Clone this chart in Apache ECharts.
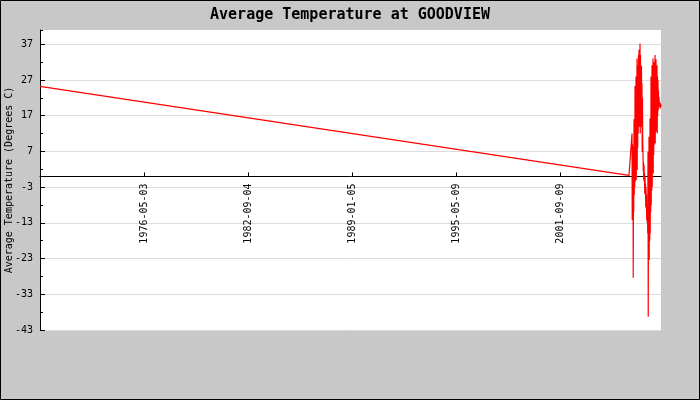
<!DOCTYPE html>
<html>
<head>
<meta charset="utf-8">
<script src="https://cdn.jsdelivr.net/npm/echarts@6/dist/echarts.min.js"></script>
<style>
html,body{margin:0;padding:0;background:#c8c8c8;}
#chart{width:700px;height:400px;}
</style>
</head>
<body>
<div id="chart"></div>
<script>
// Observation dates (YYYY-MM-DD) and average temperatures (°C)
const dates = [
  '1970-01-01', '2005-11-16',
  '2006-01-22', '2006-01-27', '2006-02-02', '2006-02-07',
  '2006-02-13', '2006-02-18', '2006-02-24', '2006-03-01',
  '2006-03-08', '2006-03-13', '2006-03-19', '2006-03-24',
  '2006-03-30', '2006-04-04', '2006-04-10', '2006-04-15',
  '2006-04-21', '2006-04-26', '2006-05-02', '2006-05-07',
  '2006-05-13', '2006-05-18', '2006-05-24', '2006-05-29',
  '2006-06-04', '2006-06-09', '2006-06-15', '2006-06-20',
  '2006-06-27', '2006-07-02', '2006-07-08', '2006-07-13',
  '2006-07-19', '2006-07-24', '2006-07-30', '2006-08-04',
  '2006-08-10', '2006-08-15', '2006-08-21', '2006-08-26',
  '2006-09-01', '2006-09-06', '2006-09-12', '2006-09-17',
  '2006-09-24', '2006-09-29', '2006-10-05', '2006-10-10',
  '2006-10-16', '2006-10-21', '2006-10-27', '2006-11-01',
  '2006-11-07', '2006-11-12', '2006-11-18', '2006-11-23',
  '2006-11-29', '2006-12-04', '2006-12-10', '2006-12-15',
  '2006-12-22', '2006-12-27', '2007-01-02', '2007-01-07',
  '2007-01-13', '2007-01-18', '2007-01-24', '2007-01-29',
  '2007-02-04', '2007-02-09', '2007-02-15', '2007-02-20',
  '2007-02-26', '2007-03-03', '2007-03-09', '2007-03-14',
  '2007-03-21', '2007-03-26', '2007-04-01', '2007-04-06',
  '2007-04-12', '2007-04-17', '2007-04-23', '2007-04-28',
  '2007-05-04', '2007-05-09', '2007-05-15', '2007-05-20',
  '2007-05-26', '2007-05-31', '2007-06-06', '2007-06-11',
  '2007-06-18', '2007-06-23', '2007-06-29', '2007-07-04',
  '2007-07-10', '2007-07-15', '2007-07-21', '2007-07-26',
  '2007-08-01', '2007-08-06', '2007-08-12', '2007-08-17',
  '2007-08-23', '2007-08-28', '2007-09-03', '2007-09-08',
  '2007-09-15', '2007-09-20', '2007-09-26', '2007-10-01',
  '2007-10-07', '2007-10-12', '2007-10-18', '2007-10-23',
  '2007-10-29'
];
const temps = [
  25.2, 0.3,
  12.0, -12.2, 9.0, -9.5,
  8.3, -28.4, 5.0, -10.0,
  16.0, -5.2, 12.5, -3.0,
  25.3, -1.5, 20.0, 2.0,
  28.0, -1.0, 24.0, 4.0,
  33.0, 1.8, 29.0, 8.0,
  31.1, 12.0, 34.0, 15.0,
  35.5, 13.9, 33.0, 17.0,
  37.2, 12.0, 34.0, 16.0,
  29.3, 13.9, 31.0, 18.0,
  26.0, 6.9, 22.0, 10.0,
  6.2, 1.5, 4.0, -1.0,
  3.2, -1.5, 1.0, -4.8,
  -0.1, -5.0, -2.0, -8.5,
  -2.9, -9.0, -5.0, -12.2,
  -8.5, -13.0, -10.0, -16.0,
  6.9, -39.3, 2.0, -20.0,
  11.1, -23.4, 6.0, -18.0,
  16.2, -16.0, 12.0, -10.0,
  27.9, -8.0, 22.0, -4.0,
  31.1, -2.9, 27.0, 2.0,
  33.0, 0.8, 30.0, 6.0,
  32.0, 8.8, 29.0, 12.0,
  34.0, 9.2, 31.0, 14.0,
  32.8, 12.5, 30.0, 16.0,
  31.1, 12.0, 28.0, 17.0,
  26.9, 18.5, 24.0, 20.0,
  22.3, 19.5, 21.0, 20.5,
  20.9, 19.0, 20.5, 19.5,
  20.0
];
// Date-axis tick labels (ticks every 2314.8 days from 1970-01-01)
const tickLabels = ['1976-05-03', '1982-09-04', '1989-01-05', '1995-05-09', '2001-09-09'];
const tickStepDays = 2314.8;
// Temperature-axis ticks
const yTicks = [-43, -33, -23, -13, -3, 7, 17, 27, 37];
const yMaxValue = 41;

const DAY = 86400000;
const xMin = Date.parse(dates[0]);
const xMax = Date.parse(dates[dates.length - 1]);

const seriesData = dates.map((d, i) => [Date.parse(d), temps[i]]);

const gridTop = 30, gridBottom = 70, H = 400;
const gridH = H - gridTop - gridBottom;
const yMin = yTicks[0];
const zeroOffset = -((0 - yMin) / (yMaxValue - yMin)) * gridH;

const chart = echarts.init(document.getElementById('chart'), null, {renderer: 'canvas'});
const font = '"DejaVu Sans Mono", monospace';
chart.setOption({
  animation: false,
  backgroundColor: '#c8c8c8',
  title: {
    text: 'Average Temperature at GOODVIEW',
    left: 'center',
    top: 3,
    textStyle: {fontFamily: font, fontSize: 15, fontWeight: 'bold', color: '#000'}
  },
  graphic: [{
    type: 'rect',
    shape: {x: 0.5, y: 0.5, width: 699, height: 399},
    style: {fill: 'none', stroke: '#000', lineWidth: 1},
    silent: true
  }],
  grid: {
    left: 40, right: 39, top: gridTop, bottom: gridBottom,
    outerBoundsMode: 'none',
    containLabel: false,
    show: true, backgroundColor: '#fff', borderWidth: 0
  },
  xAxis: {
    type: 'value',
    min: xMin,
    max: xMax,
    interval: tickStepDays * DAY,
    position: 'bottom',
    offset: zeroOffset,
    axisLine: {onZero: false, lineStyle: {color: '#000', width: 1}},
    axisTick: {inside: true, length: 4, lineStyle: {color: '#000'}},
    splitLine: {show: false},
    axisLabel: {
      rotate: 90,
      margin: 7,
      showMinLabel: false,
      showMaxLabel: false,
      color: '#000',
      fontFamily: font,
      fontSize: 10,
      formatter: v => new Date(v).toISOString().slice(0, 10)
    }
  },
  yAxis: [{
    type: 'value',
    min: yMin,
    max: yMaxValue,
    interval: 10,
    name: 'Average Temperature (Degrees C)',
    nameLocation: 'middle',
    nameGap: 26,
    nameMoveOverlap: false,
    nameTextStyle: {fontFamily: font, fontSize: 10, color: '#000'},
    axisLine: {show: true, onZero: false, lineStyle: {color: '#000', width: 1}},
    axisTick: {show: true, inside: true, length: 5, lineStyle: {color: '#000'}},
    splitLine: {show: true, showMaxLine: false, lineStyle: {color: '#dcdcdc', width: 1}},
    axisLabel: {
      margin: 7,
      showMaxLabel: false,
      color: '#000',
      fontFamily: font,
      fontSize: 10
    }
  }, {
    // minor ticks every 5 degrees, drawn inside
    type: 'value',
    position: 'left',
    min: yMin,
    max: yMaxValue,
    interval: 5,
    axisLine: {show: false, onZero: false},
    axisTick: {show: true, inside: true, length: 3, lineStyle: {color: '#000'}},
    splitLine: {show: false},
    axisLabel: {show: false}
  }],
  series: [{
    type: 'line',
    data: seriesData,
    yAxisIndex: 0,
    showSymbol: false,
    symbol: 'none',
    lineStyle: {color: '#ff0000', width: 1.2},
    itemStyle: {color: '#ff0000'}
  }]
});
</script>
</body>
</html>
